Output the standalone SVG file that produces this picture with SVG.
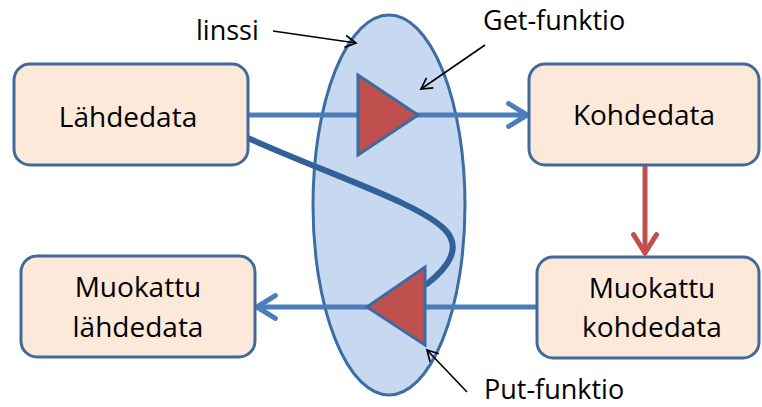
<svg xmlns="http://www.w3.org/2000/svg" width="762" height="407" viewBox="0 0 762 407">
  <style>
    .box { fill: #fde9d9; stroke: #41699a; stroke-width: 3; }
    .label { font-family: "Open Sans", "Noto Sans", sans-serif; font-size: 28px; fill: #000; text-anchor: middle; }
    .note { font-family: "Open Sans", "Noto Sans", sans-serif; font-size: 27px; fill: #000; }
    .flow { fill: none; stroke: #4a7ebb; stroke-width: 5; }
    .tri { fill: #c0504d; stroke: #3e6aa0; stroke-width: 3; stroke-linejoin: miter; }
    .pointer { fill: none; stroke: #000; stroke-width: 1.6; }
  </style>
  <defs>
    <marker id="chevBlue" viewBox="0 0 12 12" refX="10" refY="6" markerWidth="5.5" markerHeight="5.5" orient="auto" markerUnits="strokeWidth">
      <path d="M2,1 L10,6 L2,11" fill="none" stroke="#4a7ebb" stroke-width="2.2" stroke-linecap="round" stroke-linejoin="round"/>
    </marker>
    <marker id="chevRed" viewBox="0 0 12 12" refX="10" refY="6" markerWidth="5.5" markerHeight="5.5" orient="auto" markerUnits="strokeWidth">
      <path d="M2,1 L10,6 L2,11" fill="none" stroke="#c0504d" stroke-width="2.2" stroke-linecap="round" stroke-linejoin="round"/>
    </marker>
    <marker id="chevBlack" viewBox="0 0 12 12" refX="10" refY="6" markerWidth="9" markerHeight="9" orient="auto" markerUnits="strokeWidth">
      <path d="M1,1 L10,6 L1,11" fill="none" stroke="#000" stroke-width="1.4"/>
    </marker>
  </defs>

  <!-- lens -->
  <g id="lens">
    <ellipse cx="389" cy="205" rx="76" ry="190" fill="#c6d9f1" stroke="#3e6da3" stroke-width="3"/>
  </g>

  <!-- connectors -->
  <g id="connectors">
    <line class="flow" x1="248" y1="115" x2="527" y2="115" marker-end="url(#chevBlue)"/>
    <line class="flow" x1="537" y1="307" x2="257" y2="307" marker-end="url(#chevBlue)"/>
    <line x1="645" y1="166" x2="645" y2="253" fill="none" stroke="#c0504d" stroke-width="5" marker-end="url(#chevRed)"/>
    <path d="M248,138 C330,175 425,205 447,232 C460,248 450,266 427,284" fill="none" stroke="#34609a" stroke-width="6" stroke-linecap="round"/>
    <line class="pointer" x1="273" y1="31" x2="356" y2="43" marker-end="url(#chevBlack)"/>
    <line class="pointer" x1="485" y1="45" x2="421" y2="89" marker-end="url(#chevBlack)"/>
    <line class="pointer" x1="467" y1="392" x2="427" y2="350" marker-end="url(#chevBlack)"/>
  </g>

  <!-- functions -->
  <g id="get">
    <polygon class="tri" points="358,75 358,155 418,115"/>
  </g>
  <g id="put">
    <polygon class="tri" points="425,267 425,345 367,307"/>
  </g>

  <!-- data nodes -->
  <g id="lahdedata">
    <rect class="box" x="14" y="64" width="234" height="101" rx="16"/>
    <text class="label" x="128" y="127">Lähdedata</text>
  </g>
  <g id="kohdedata">
    <rect class="box" x="529" y="64" width="230" height="101" rx="16"/>
    <text class="label" x="644" y="125">Kohdedata</text>
  </g>
  <g id="muokattu-kohdedata">
    <rect class="box" x="537" y="257" width="222" height="101" rx="16"/>
    <text class="label" x="652" y="298">Muokattu</text>
    <text class="label" x="652" y="337">kohdedata</text>
  </g>
  <g id="muokattu-lahdedata">
    <rect class="box" x="21" y="256" width="234" height="101" rx="16"/>
    <text class="label" x="138" y="297">Muokattu</text>
    <text class="label" x="138" y="337">lähdedata</text>
  </g>

  <!-- annotations -->
  <g id="labels">
    <text class="note" x="196" y="40">linssi</text>
    <text class="note" x="483" y="29.5">Get-funktio</text>
    <text class="note" x="484" y="398.5">Put-funktio</text>
  </g>
</svg>
